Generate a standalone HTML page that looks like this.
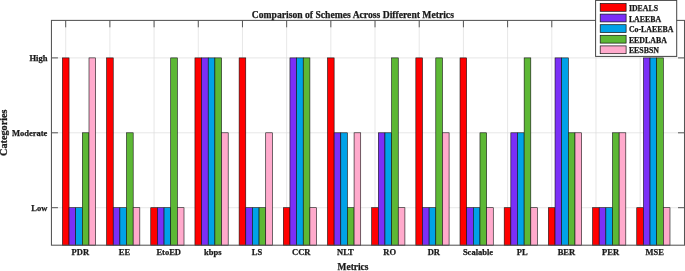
<!DOCTYPE html>
<html><head><meta charset="utf-8"><title>Comparison of Schemes Across Different Metrics</title>
<style>html,body{margin:0;padding:0;background:#fff;overflow:hidden}svg{display:block;filter:blur(0.3px)}text{font-family:"Liberation Serif","Times New Roman",serif;font-weight:bold;fill:#1a1a1a;stroke:#1a1a1a;stroke-width:0.25px}</style></head><body>
<svg width="685" height="271" viewBox="0 0 685 271">
<rect x="0" y="0" width="685" height="271" fill="#fff"/>
<g stroke="#dcdcdc" stroke-width="0.7" fill="none"><line x1="65.70" y1="20.4" x2="65.70" y2="245.2"/><line x1="109.89" y1="20.4" x2="109.89" y2="245.2"/><line x1="154.08" y1="20.4" x2="154.08" y2="245.2"/><line x1="198.27" y1="20.4" x2="198.27" y2="245.2"/><line x1="242.46" y1="20.4" x2="242.46" y2="245.2"/><line x1="286.65" y1="20.4" x2="286.65" y2="245.2"/><line x1="330.84" y1="20.4" x2="330.84" y2="245.2"/><line x1="375.03" y1="20.4" x2="375.03" y2="245.2"/><line x1="419.22" y1="20.4" x2="419.22" y2="245.2"/><line x1="463.41" y1="20.4" x2="463.41" y2="245.2"/><line x1="507.60" y1="20.4" x2="507.60" y2="245.2"/><line x1="551.79" y1="20.4" x2="551.79" y2="245.2"/><line x1="595.98" y1="20.4" x2="595.98" y2="245.2"/><line x1="640.17" y1="20.4" x2="640.17" y2="245.2"/><line x1="51.45" y1="207.7" x2="684.5" y2="207.7"/><line x1="51.45" y1="132.8" x2="684.5" y2="132.8"/><line x1="51.45" y1="57.9" x2="684.5" y2="57.9"/></g>
<g stroke="#444" stroke-width="0.9" fill="none"><line x1="65.70" y1="20.4" x2="65.70" y2="27.299999999999997"/><line x1="65.70" y1="245.2" x2="65.70" y2="238.29999999999998"/><line x1="109.89" y1="20.4" x2="109.89" y2="27.299999999999997"/><line x1="109.89" y1="245.2" x2="109.89" y2="238.29999999999998"/><line x1="154.08" y1="20.4" x2="154.08" y2="27.299999999999997"/><line x1="154.08" y1="245.2" x2="154.08" y2="238.29999999999998"/><line x1="198.27" y1="20.4" x2="198.27" y2="27.299999999999997"/><line x1="198.27" y1="245.2" x2="198.27" y2="238.29999999999998"/><line x1="242.46" y1="20.4" x2="242.46" y2="27.299999999999997"/><line x1="242.46" y1="245.2" x2="242.46" y2="238.29999999999998"/><line x1="286.65" y1="20.4" x2="286.65" y2="27.299999999999997"/><line x1="286.65" y1="245.2" x2="286.65" y2="238.29999999999998"/><line x1="330.84" y1="20.4" x2="330.84" y2="27.299999999999997"/><line x1="330.84" y1="245.2" x2="330.84" y2="238.29999999999998"/><line x1="375.03" y1="20.4" x2="375.03" y2="27.299999999999997"/><line x1="375.03" y1="245.2" x2="375.03" y2="238.29999999999998"/><line x1="419.22" y1="20.4" x2="419.22" y2="27.299999999999997"/><line x1="419.22" y1="245.2" x2="419.22" y2="238.29999999999998"/><line x1="463.41" y1="20.4" x2="463.41" y2="27.299999999999997"/><line x1="463.41" y1="245.2" x2="463.41" y2="238.29999999999998"/><line x1="507.60" y1="20.4" x2="507.60" y2="27.299999999999997"/><line x1="507.60" y1="245.2" x2="507.60" y2="238.29999999999998"/><line x1="551.79" y1="20.4" x2="551.79" y2="27.299999999999997"/><line x1="551.79" y1="245.2" x2="551.79" y2="238.29999999999998"/><line x1="595.98" y1="20.4" x2="595.98" y2="27.299999999999997"/><line x1="595.98" y1="245.2" x2="595.98" y2="238.29999999999998"/><line x1="640.17" y1="20.4" x2="640.17" y2="27.299999999999997"/><line x1="640.17" y1="245.2" x2="640.17" y2="238.29999999999998"/><line x1="51.45" y1="207.7" x2="57.95" y2="207.7"/><line x1="684.5" y1="207.7" x2="678.0" y2="207.7"/><line x1="51.45" y1="132.8" x2="57.95" y2="132.8"/><line x1="684.5" y1="132.8" x2="678.0" y2="132.8"/><line x1="51.45" y1="57.9" x2="57.95" y2="57.9"/><line x1="684.5" y1="57.9" x2="678.0" y2="57.9"/></g>
<g stroke="#111" stroke-width="0.6"><rect x="62.40" y="57.9" width="6.65" height="187.30" fill="#ff0000"/><rect x="69.05" y="207.7" width="6.65" height="37.50" fill="#7b2ff7"/><rect x="75.70" y="207.7" width="6.65" height="37.50" fill="#00a2e8"/><rect x="82.35" y="132.8" width="6.65" height="112.40" fill="#5db835"/><rect x="89.00" y="57.9" width="6.65" height="187.30" fill="#ffaacc"/><rect x="106.58" y="57.9" width="6.65" height="187.30" fill="#ff0000"/><rect x="113.23" y="207.7" width="6.65" height="37.50" fill="#7b2ff7"/><rect x="119.88" y="207.7" width="6.65" height="37.50" fill="#00a2e8"/><rect x="126.53" y="132.8" width="6.65" height="112.40" fill="#5db835"/><rect x="133.18" y="207.7" width="6.65" height="37.50" fill="#ffaacc"/><rect x="150.76" y="207.7" width="6.65" height="37.50" fill="#ff0000"/><rect x="157.41" y="207.7" width="6.65" height="37.50" fill="#7b2ff7"/><rect x="164.06" y="207.7" width="6.65" height="37.50" fill="#00a2e8"/><rect x="170.71" y="57.9" width="6.65" height="187.30" fill="#5db835"/><rect x="177.36" y="207.7" width="6.65" height="37.50" fill="#ffaacc"/><rect x="194.94" y="57.9" width="6.65" height="187.30" fill="#ff0000"/><rect x="201.59" y="57.9" width="6.65" height="187.30" fill="#7b2ff7"/><rect x="208.24" y="57.9" width="6.65" height="187.30" fill="#00a2e8"/><rect x="214.89" y="57.9" width="6.65" height="187.30" fill="#5db835"/><rect x="221.54" y="132.8" width="6.65" height="112.40" fill="#ffaacc"/><rect x="239.12" y="57.9" width="6.65" height="187.30" fill="#ff0000"/><rect x="245.77" y="207.7" width="6.65" height="37.50" fill="#7b2ff7"/><rect x="252.42" y="207.7" width="6.65" height="37.50" fill="#00a2e8"/><rect x="259.07" y="207.7" width="6.65" height="37.50" fill="#5db835"/><rect x="265.72" y="132.8" width="6.65" height="112.40" fill="#ffaacc"/><rect x="283.30" y="207.7" width="6.65" height="37.50" fill="#ff0000"/><rect x="289.95" y="57.9" width="6.65" height="187.30" fill="#7b2ff7"/><rect x="296.60" y="57.9" width="6.65" height="187.30" fill="#00a2e8"/><rect x="303.25" y="57.9" width="6.65" height="187.30" fill="#5db835"/><rect x="309.90" y="207.7" width="6.65" height="37.50" fill="#ffaacc"/><rect x="327.48" y="57.9" width="6.65" height="187.30" fill="#ff0000"/><rect x="334.13" y="132.8" width="6.65" height="112.40" fill="#7b2ff7"/><rect x="340.78" y="132.8" width="6.65" height="112.40" fill="#00a2e8"/><rect x="347.43" y="207.7" width="6.65" height="37.50" fill="#5db835"/><rect x="354.08" y="132.8" width="6.65" height="112.40" fill="#ffaacc"/><rect x="371.66" y="207.7" width="6.65" height="37.50" fill="#ff0000"/><rect x="378.31" y="132.8" width="6.65" height="112.40" fill="#7b2ff7"/><rect x="384.96" y="132.8" width="6.65" height="112.40" fill="#00a2e8"/><rect x="391.61" y="57.9" width="6.65" height="187.30" fill="#5db835"/><rect x="398.26" y="207.7" width="6.65" height="37.50" fill="#ffaacc"/><rect x="415.84" y="57.9" width="6.65" height="187.30" fill="#ff0000"/><rect x="422.49" y="207.7" width="6.65" height="37.50" fill="#7b2ff7"/><rect x="429.14" y="207.7" width="6.65" height="37.50" fill="#00a2e8"/><rect x="435.79" y="57.9" width="6.65" height="187.30" fill="#5db835"/><rect x="442.44" y="132.8" width="6.65" height="112.40" fill="#ffaacc"/><rect x="460.02" y="57.9" width="6.65" height="187.30" fill="#ff0000"/><rect x="466.67" y="207.7" width="6.65" height="37.50" fill="#7b2ff7"/><rect x="473.32" y="207.7" width="6.65" height="37.50" fill="#00a2e8"/><rect x="479.97" y="132.8" width="6.65" height="112.40" fill="#5db835"/><rect x="486.62" y="207.7" width="6.65" height="37.50" fill="#ffaacc"/><rect x="504.20" y="207.7" width="6.65" height="37.50" fill="#ff0000"/><rect x="510.85" y="132.8" width="6.65" height="112.40" fill="#7b2ff7"/><rect x="517.50" y="132.8" width="6.65" height="112.40" fill="#00a2e8"/><rect x="524.15" y="57.9" width="6.65" height="187.30" fill="#5db835"/><rect x="530.80" y="207.7" width="6.65" height="37.50" fill="#ffaacc"/><rect x="548.38" y="207.7" width="6.65" height="37.50" fill="#ff0000"/><rect x="555.03" y="57.9" width="6.65" height="187.30" fill="#7b2ff7"/><rect x="561.68" y="57.9" width="6.65" height="187.30" fill="#00a2e8"/><rect x="568.33" y="132.8" width="6.65" height="112.40" fill="#5db835"/><rect x="574.98" y="132.8" width="6.65" height="112.40" fill="#ffaacc"/><rect x="592.56" y="207.7" width="6.65" height="37.50" fill="#ff0000"/><rect x="599.21" y="207.7" width="6.65" height="37.50" fill="#7b2ff7"/><rect x="605.86" y="207.7" width="6.65" height="37.50" fill="#00a2e8"/><rect x="612.51" y="132.8" width="6.65" height="112.40" fill="#5db835"/><rect x="619.16" y="132.8" width="6.65" height="112.40" fill="#ffaacc"/><rect x="636.74" y="207.7" width="6.65" height="37.50" fill="#ff0000"/><rect x="643.39" y="57.9" width="6.65" height="187.30" fill="#7b2ff7"/><rect x="650.04" y="57.9" width="6.65" height="187.30" fill="#00a2e8"/><rect x="656.69" y="57.9" width="6.65" height="187.30" fill="#5db835"/><rect x="663.34" y="207.7" width="6.65" height="37.50" fill="#ffaacc"/></g>
<rect x="51.45" y="20.4" width="633.05" height="224.79999999999998" fill="none" stroke="#555" stroke-width="1.05"/>
<text x="80.30" y="255.3" font-size="8.5" text-anchor="middle">PDR</text>
<text x="124.49" y="255.3" font-size="8.5" text-anchor="middle">EE</text>
<text x="168.68" y="255.3" font-size="8.5" text-anchor="middle">EtoED</text>
<text x="212.87" y="255.3" font-size="8.5" text-anchor="middle">kbps</text>
<text x="257.06" y="255.3" font-size="8.5" text-anchor="middle">LS</text>
<text x="301.25" y="255.3" font-size="8.5" text-anchor="middle">CCR</text>
<text x="345.44" y="255.3" font-size="8.5" text-anchor="middle">NLT</text>
<text x="389.63" y="255.3" font-size="8.5" text-anchor="middle">RO</text>
<text x="433.82" y="255.3" font-size="8.5" text-anchor="middle">DR</text>
<text x="478.01" y="255.3" font-size="8.5" text-anchor="middle">Scalable</text>
<text x="522.20" y="255.3" font-size="8.5" text-anchor="middle">PL</text>
<text x="566.39" y="255.3" font-size="8.5" text-anchor="middle">BER</text>
<text x="610.58" y="255.3" font-size="8.5" text-anchor="middle">PER</text>
<text x="654.77" y="255.3" font-size="8.5" text-anchor="middle">MSE</text>
<text x="47.4" y="61.30" font-size="8.5" text-anchor="end">High</text>
<text x="47.4" y="136.20" font-size="8.5" text-anchor="end">Moderate</text>
<text x="47.4" y="211.10" font-size="8.5" text-anchor="end">Low</text>
<text x="337.6" y="269.7" font-size="10" textLength="30.8" lengthAdjust="spacingAndGlyphs">Metrics</text>
<text transform="translate(7,156) rotate(-90)" font-size="10" textLength="46.6" lengthAdjust="spacingAndGlyphs">Categories</text>
<text x="251.8" y="17.8" font-size="10" textLength="202.1" lengthAdjust="spacingAndGlyphs">Comparison of Schemes Across Different Metrics</text>
<rect x="595.6" y="0.4" width="81.1" height="56.0" fill="#fff" stroke="#444" stroke-width="1"/>
<rect x="600.2" y="3.50" width="25.9" height="7.8" fill="#ff0000" stroke="#111" stroke-width="0.7"/>
<text x="628.9" y="10.90" font-size="7.85">IDEALS</text>
<rect x="600.2" y="14.10" width="25.9" height="7.8" fill="#7b2ff7" stroke="#111" stroke-width="0.7"/>
<text x="628.9" y="21.50" font-size="7.85">LAEEBA</text>
<rect x="600.2" y="24.70" width="25.9" height="7.8" fill="#00a2e8" stroke="#111" stroke-width="0.7"/>
<text x="628.9" y="32.10" font-size="7.85">Co-LAEEBA</text>
<rect x="600.2" y="35.30" width="25.9" height="7.8" fill="#5db835" stroke="#111" stroke-width="0.7"/>
<text x="628.9" y="42.70" font-size="7.85">EEDLABA</text>
<rect x="600.2" y="45.90" width="25.9" height="7.8" fill="#ffaacc" stroke="#111" stroke-width="0.7"/>
<text x="628.9" y="53.30" font-size="7.85">EESBSN</text>
</svg></body></html>
